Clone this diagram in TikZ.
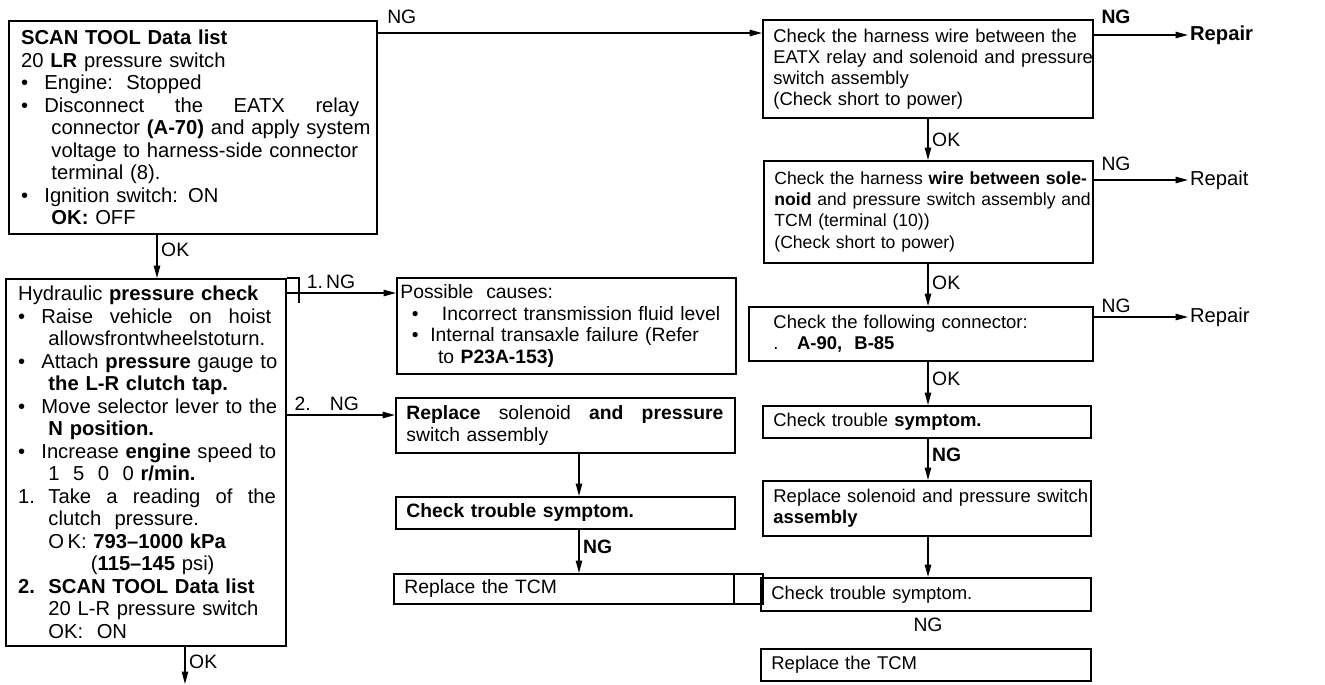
\documentclass[tikz,border=0pt]{standalone}
\usepackage{fontspec}
\setmainfont{Liberation Sans}
\usetikzlibrary{arrows.meta}

\newcommand{\itembul}{\makebox[1.15em][l]{\textbullet}}
\newcommand{\itemind}{\hspace*{1.5em}}
\newcommand{\spreadline}[2]{\makebox[#1][s]{\spaceskip=.3333em plus 1fil\relax #2}}

\tikzset{
  stepbox/.style={draw, line width=1pt, anchor=north west, align=left,
    inner xsep=6pt, inner ysep=2pt, font=\fontsize{10.5}{12}\selectfont},
  bigbox/.style={stepbox, inner xsep=7pt, font=\fontsize{11.5}{12.8}\selectfont},
  flow/.style={line width=0.8pt, -{Triangle[length=7pt,width=3.6pt]}},
  lbl/.style={font=\fontsize{11}{12}\selectfont, inner sep=2pt},
  endnote/.style={font=\fontsize{11.5}{13}\selectfont, anchor=west, inner sep=1pt}
}

\begin{document}
\begin{tikzpicture}[x=0.02cm, y=-0.02cm]
\useasboundingbox (0,0) rectangle (1325,684);

% left column
\node[bigbox, minimum width=7.36cm, minimum height=4.26cm, text width=6.87cm] (scan) at (8,20)
  {\textbf{SCAN TOOL Data list}\\
   20 \textbf{LR} pressure switch\\
   \itembul Engine:\ \ Stopped\\
   \itembul\spreadline{6.3cm}{Disconnect the EATX relay}\\
   \itemind\mbox{connector \textbf{(A-70)} and apply system}\\
   \itemind\mbox{voltage to harness-side connector}\\
   \itemind terminal (8).\\
   \itembul Ignition switch: ON\\
   \itemind\textbf{OK:} OFF};

\node[bigbox, minimum width=5.6cm, minimum height=7.34cm, text width=5.11cm] (hydro) at (5,278)
  {\mbox{Hydraulic \textbf{pressure check}}\\
   \itembul\spreadline{4.6cm}{Raise vehicle on hoist}\\
   \itemind allowsfrontwheelstoturn.\\
   \itembul\mbox{Attach \textbf{pressure} gauge to}\\
   \itemind\mbox{\textbf{the L-R clutch tap.}}\\
   \itembul\mbox{Move selector lever to the}\\
   \itemind\textbf{N position.}\\
   \itembul\mbox{Increase \textbf{engine} speed to}\\
   \itemind 1\ \ 5\ \ 0\ \ 0 \textbf{r/min.}\\
   \makebox[1.5em][l]{1.}\spreadline{4.55cm}{Take a reading of the}\\
   \itemind clutch\ \ pressure.\\
   \itemind\mbox{O\,K:\ \textbf{793--1000 kPa}}\\
   \hspace*{3.6em}(\textbf{115--145} psi)\\
   \mbox{\textbf{2.\ \ SCAN TOOL Data list}}\\
   \itemind\mbox{20 L-R pressure switch}\\
   \itemind OK:\ \ ON};
\draw[line width=1pt] (hydro.north east) -| (299,303);

% middle column
\node[stepbox, font=\fontsize{11}{12.3}\selectfont, inner xsep=2pt, minimum width=6.78cm, minimum height=1.92cm, text width=6.64cm] (causes) at (396,277)
  {Possible\ \ causes:\\
   \hspace*{0.6em}\makebox[1.55em][l]{\textbullet}\mbox{Incorrect transmission fluid level}\\
   \hspace*{0.6em}\makebox[0.95em][l]{\textbullet}\mbox{Internal transaxle failure (Refer}\\
   \hspace*{1.95em}to \textbf{P23A-153)}};
\node[stepbox, font=\fontsize{11}{12.3}\selectfont, minimum width=6.78cm, minimum height=1.1cm, text width=6.36cm] (replK) at (395,397)
  {\spreadline{6.34cm}{\textbf{Replace} solenoid \textbf{and pressure}}\\ switch assembly};
\node[stepbox, font=\fontsize{11}{12.3}\selectfont\bfseries, minimum width=6.78cm, minimum height=0.64cm, text width=6.36cm] (checkL) at (395,496)
  {Check trouble symptom.};
\node[stepbox, font=\fontsize{11}{12.3}\selectfont, minimum width=7.38cm, minimum height=0.6cm, text width=6.96cm] (tcmM) at (393,573)
  {Replace the TCM};
\draw[line width=1pt] (tcmM.north -| 734,0) -- (tcmM.south -| 734,0);

% right column
\node[stepbox, minimum width=6.6cm, minimum height=1.96cm, text width=6.18cm] (harnessB) at (762,19)
  {\mbox{Check the harness wire between the}\\
   \mbox{EATX relay and solenoid and pressure}\\
   switch assembly\\
   \mbox{(Check short to power)}};
\node[stepbox, font=\fontsize{10}{12}\selectfont, minimum width=6.58cm, minimum height=2.04cm, text width=6.16cm] (harnessC) at (763,160)
  {\mbox{Check the harness \textbf{wire between sole-}}\\
   \mbox{\textbf{noid} and pressure switch assembly and}\\
   TCM (terminal (10))\\
   \mbox{(Check short to power)}};
\node[stepbox, inner xsep=14pt, minimum width=6.88cm, minimum height=1.08cm, text width=5.9cm] (connD) at (748,306)
  {\mbox{Check the following connector:}\\ .\ \ \ \textbf{A-90,\ \ B-85}};
\node[stepbox, minimum width=6.56cm, minimum height=0.64cm, text width=6.14cm] (checkE) at (762,405)
  {Check trouble \textbf{symptom.}};
\node[stepbox, minimum width=6.56cm, minimum height=1.1cm, text width=6.14cm] (replF) at (762,480)
  {\mbox{Replace solenoid and pressure switch}\\ \textbf{assembly}};
\node[stepbox, minimum width=6.6cm, minimum height=0.66cm, text width=6.18cm] (checkG) at (760,577)
  {Check trouble symptom.};
\node[lbl] (ngGH) at (928,625) {NG};
\node[stepbox, minimum width=6.6cm, minimum height=0.64cm, text width=6.18cm] (tcmH) at (760,648)
  {Replace the TCM};

\node[endnote, font=\fontsize{11.5}{13}\selectfont\bfseries] (repair1) at (1188,35) {Repair};
\node[endnote] (repair2) at (1188,180) {Repait};
\node[endnote] (repair3) at (1188,317) {Repair};

% connectors
\draw[flow] (scan.east |- 0,33) -- node[lbl, anchor=south west, pos=0, xshift=3pt, yshift=3pt]{NG} (harnessB.west |- 0,33);
\draw[flow] (harnessB.east |- repair1) -- node[lbl, anchor=south west, pos=0, xshift=2pt, yshift=4pt]{\textbf{NG}} (repair1.west);
\draw[flow] (harnessC.east |- repair2) -- node[lbl, anchor=south west, pos=0, xshift=2pt, yshift=3pt]{NG} (repair2.west);
\draw[flow] (connD.east |- repair3) -- node[lbl, anchor=south west, pos=0, xshift=2pt]{NG} (repair3.west);

\draw[flow] (harnessB.south -| 928,0) -- node[lbl, right]{OK} (harnessC.north -| 928,0);
\draw[flow] (harnessC.south -| 928,0) -- node[lbl, right, pos=0.45]{OK} (connD.north -| 928,0);
\draw[flow] (connD.south -| 928,0) -- node[lbl, right, pos=0.4]{OK} (checkE.north -| 928,0);
\draw[flow] (checkE.south -| 928,0) -- node[lbl, right, pos=0.4]{\textbf{NG}} (replF.north -| 928,0);
\draw[flow] (replF.south -| 928,0) -- (checkG.north -| 928,0);

\draw[flow] (scan.south -| 157,0) -- node[lbl, right, pos=0.35]{OK} (hydro.north -| 157,0);
\draw[flow] (hydro.east |- 0,293) -- node[lbl, anchor=south west, pos=0, xshift=9pt]{1.\,NG} (causes.west |- 0,293);
\draw[flow] (hydro.east |- 0,415) -- node[lbl, anchor=south west, pos=0, xshift=2pt]{2.\quad NG} (replK.west |- 0,415);
\draw[flow] (replK.south -| 579,0) -- (checkL.north -| 579,0);
\draw[flow] (checkL.south -| 579,0) -- node[lbl, right, pos=0.4]{\textbf{NG}} (tcmM.north -| 579,0);

\coordinate (exitOK) at (185,684);
\draw[flow] (hydro.south -| exitOK) -- node[lbl, right, pos=0.4]{OK} (exitOK);
\end{tikzpicture}
\end{document}
